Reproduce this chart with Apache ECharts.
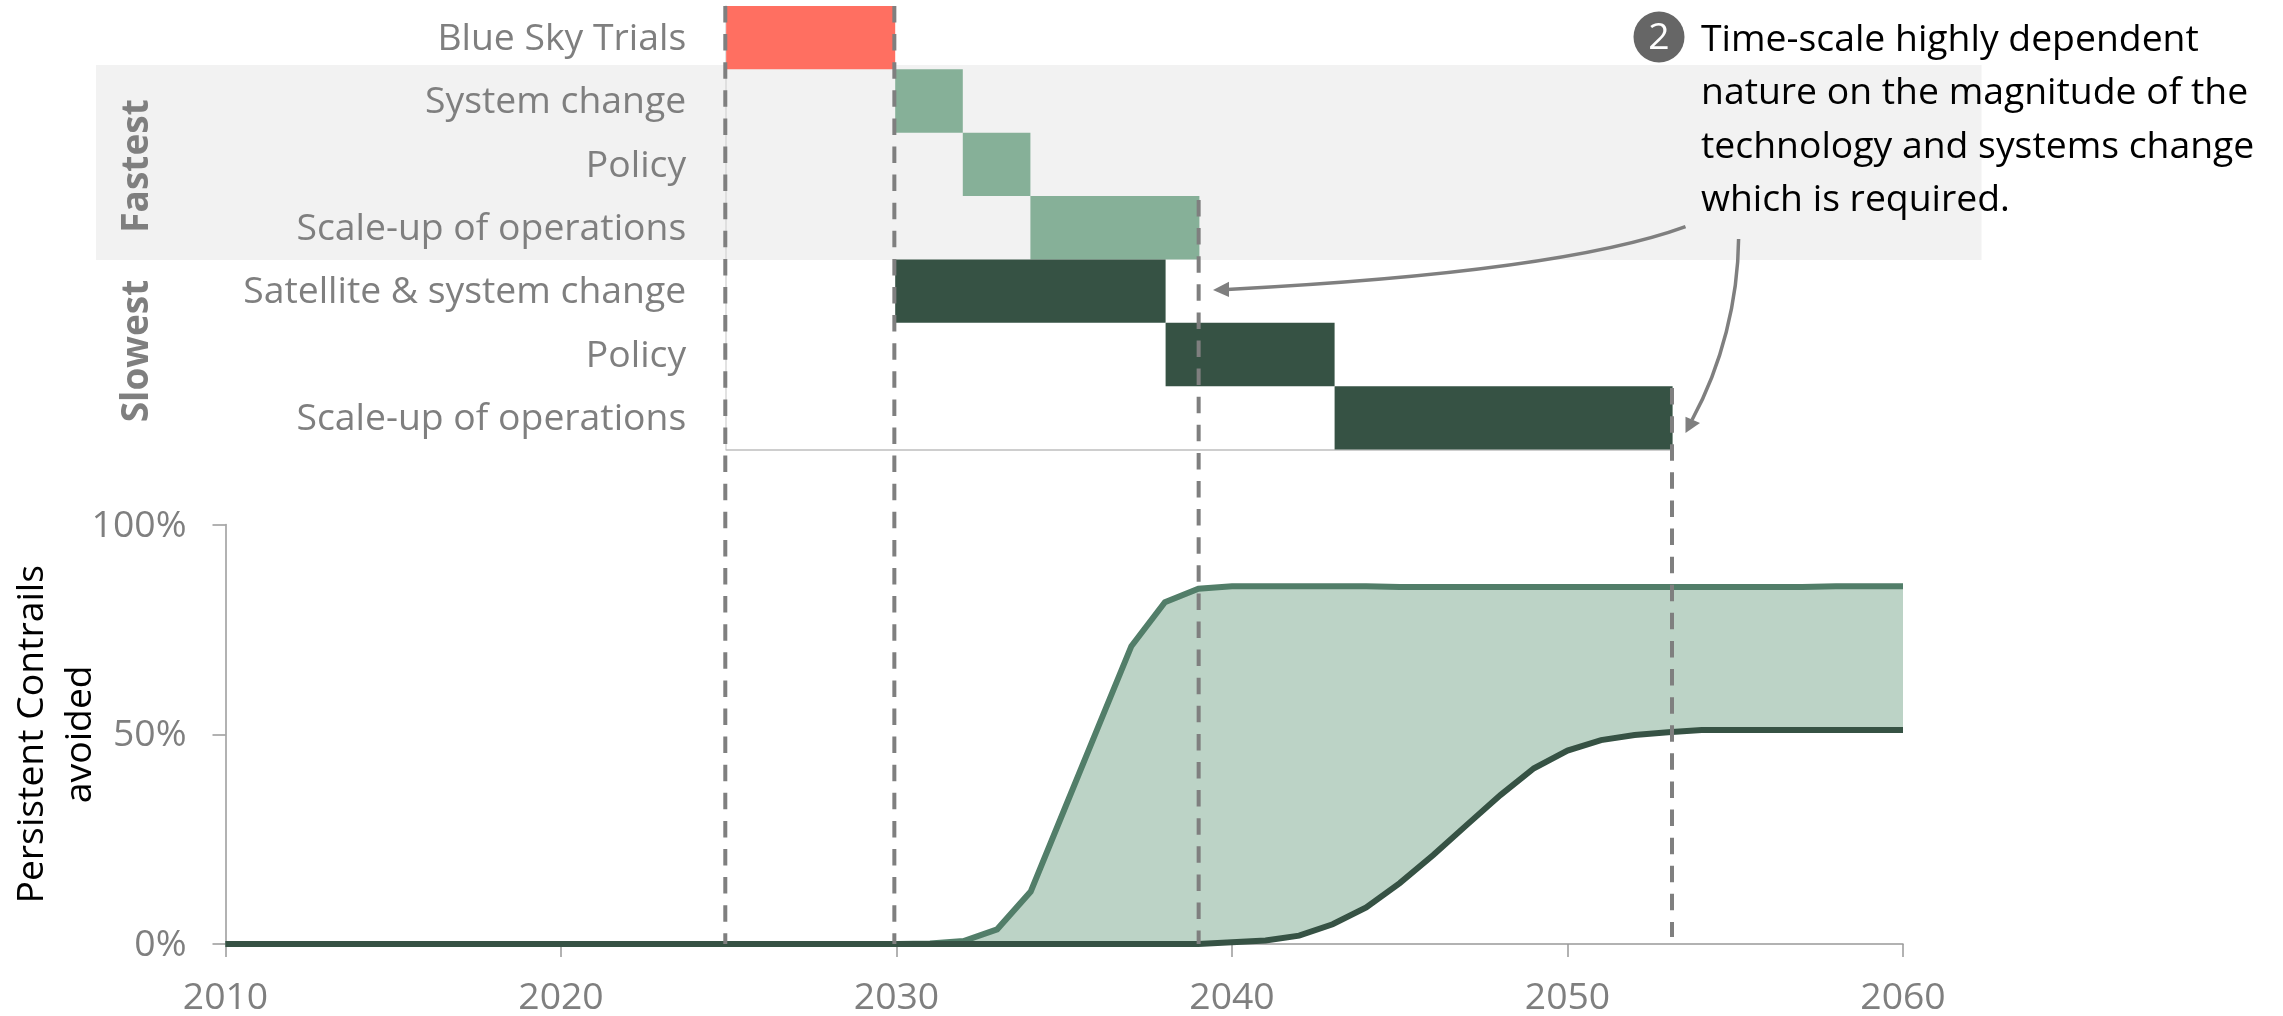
<!DOCTYPE html>
<html>
<head>
<meta charset="utf-8">
<style>html,body{margin:0;padding:0;background:#fff}#c{width:2283px;height:1016px}</style>
<script src="https://cdn.jsdelivr.net/npm/echarts@6/dist/echarts.min.js"></script>
</head>
<body>
<div id="c"></div>
<script>
// Programme phases
const phaseLabels = ['Blue Sky Trials','System change','Policy','Scale-up of operations','Satellite & system change','Policy','Scale-up of operations'];
const phaseStart = [2025,2030,2032,2034,2030,2038,2043];
const phaseEnd   = [2030,2032,2034,2039,2038,2043,2053];
const phaseColor = ['#ff6f61','#86b098','#86b098','#86b098','#365244','#365244','#365244'];

// Share of persistent contrails avoided, by year
const years = [2010,2011,2012,2013,2014,2015,2016,2017,2018,2019,
  2020,2021,2022,2023,2024,2025,2026,2027,2028,2029,
  2030,2031,2032,2033,2034,2035,2036,2037,2038,2039,
  2040,2041,2042,2043,2044,2045,2046,2047,2048,2049,
  2050,2051,2052,2053,2054,2055,2056,2057,2058,2059,2060];
const fastest = [0,0,0,0,0,0,0,0,0,0, 0,0,0,0,0,0,0,0,0,0, 0,0.1,0.7,3.5,12.5,32,51.5,71,81.5,84.7,
  85.3,85.3,85.3,85.3,85.3,85.1,85.1,85.1,85.1,85.1, 85.1,85.1,85.1,85.1,85.1,85.1,85.1,85.1,85.3,85.3,85.3];
const slowest = [0,0,0,0,0,0,0,0,0,0, 0,0,0,0,0,0,0,0,0,0, 0,0,0,0,0,0,0,0,0,0,
  0.4,0.85,2,4.7,8.7,14.5,21.2,28.4,35.5,41.9, 46.1,48.6,49.8,50.5,51,51,51,51,51,51,51];

// Dashed guides: year, and where each starts and stops (0 = top, 1 = bottom of the guide panel)
const guideYears = [2025,2030,2039,2053];
const guideFrom  = [0,0,0.2068,0.4073];
const guideTo    = [1,1,1,0.9925];

const noteLines = ['Time-scale highly dependent','nature on the magnitude of the','technology and systems change','which is required.'];

const FONT = '"Open Sans"';
const GREY = '#7f7f7f';
const SIZE = 37.33;
const bandHeight = fastest.map((v, i) => +(v - slowest[i]).toFixed(2));

const hiddenAxis = {show: false};
const gridBase = {outerBoundsMode: 'none'};
// Rich label style that sits the axis text slightly below its row centre
const loweredText = {t: {color: GREY, fontSize: SIZE, fontFamily: FONT, padding: [3, 0, 0, 0]}};

const option = {
  animation: false,
  backgroundColor: '#fff',
  textStyle: {fontFamily: FONT},
  grid: [
    {...gridBase, left: 726.2, width: 946.4, top: 6, height: 443.5},
    {...gridBase, left: 225.5, width: 1677.5, top: 524.5, height: 419.5},
    {...gridBase, left: 725.3, width: 946.7, top: 6, height: 938},
    {...gridBase, left: 96, width: 1885.5, top: 65, height: 195, show: true, backgroundColor: '#f2f2f2', borderWidth: 0, z: 0}
  ],
  xAxis: [
    {gridIndex: 0, type: 'value', min: 2025, max: 2053, splitLine: {show: false}, axisTick: {show: false}, axisLabel: {show: false},
     axisLine: {show: true, lineStyle: {color: '#bfbfbf', width: 1.5}}},
    {gridIndex: 1, type: 'category', data: years, boundaryGap: false, splitLine: {show: false},
     axisLine: {show: true, onZero: false, lineStyle: {color: '#999', width: 1.5}},
     axisTick: {show: true, length: 13, interval: 9, lineStyle: {color: '#999', width: 1.5}},
     axisLabel: {color: GREY, fontSize: SIZE, fontFamily: FONT, margin: 36, interval: 9}},
    {gridIndex: 2, type: 'value', min: 2025, max: 2053, ...hiddenAxis},
    {gridIndex: 3, type: 'value', min: 0, max: 1, ...hiddenAxis}
  ],
  yAxis: [
    {gridIndex: 0, type: 'category', inverse: true, data: phaseLabels,
     axisLine: {show: true, lineStyle: {color: '#d9d9d9', width: 1.5}}, axisTick: {show: false},
     axisLabel: {margin: 40, interval: 0, formatter: v => '{t|' + v + '}', rich: loweredText}},
    {gridIndex: 1, type: 'value', min: 0, max: 100, interval: 50, splitLine: {show: false},
     axisLine: {show: true, lineStyle: {color: '#999', width: 1.5}},
     axisTick: {show: true, length: 13, lineStyle: {color: '#999', width: 1.5}},
     axisLabel: {margin: 39, formatter: v => '{t|' + v + '%}', rich: loweredText},
     name: 'Persistent Contrails\navoided', nameLocation: 'middle', nameGap: 121, nameRotate: 90, nameMoveOverlap: false,
     nameTextStyle: {color: '#000', fontSize: SIZE, fontFamily: FONT, lineHeight: 48}},
    {gridIndex: 2, type: 'value', min: 0, max: 1, inverse: true, ...hiddenAxis},
    {gridIndex: 3, type: 'value', min: 0, max: 1, ...hiddenAxis}
  ],
  series: [
    {name: 'Start', type: 'bar', xAxisIndex: 0, yAxisIndex: 0, stack: 'phase', barWidth: '100%', silent: true,
     itemStyle: {color: 'transparent'}, data: phaseStart},
    {name: 'Duration', type: 'bar', xAxisIndex: 0, yAxisIndex: 0, stack: 'phase', barWidth: '100%', z: 3,
     data: phaseEnd.map((e, i) => ({value: e - phaseStart[i], itemStyle: {color: phaseColor[i]}}))},

    {name: 'Band base', type: 'line', xAxisIndex: 1, yAxisIndex: 1, stack: 'band', symbol: 'none', lineStyle: {width: 0}, data: slowest},
    {name: 'Band', type: 'line', xAxisIndex: 1, yAxisIndex: 1, stack: 'band', symbol: 'none', lineStyle: {width: 0},
     areaStyle: {color: '#bcd3c6', opacity: 1}, data: bandHeight},
    {name: 'Fastest', type: 'line', xAxisIndex: 1, yAxisIndex: 1, symbol: 'none', z: 4, lineStyle: {color: '#527e69', width: 6, join: 'miter'}, data: fastest},
    {name: 'Slowest', type: 'line', xAxisIndex: 1, yAxisIndex: 1, symbol: 'none', z: 5, lineStyle: {color: '#365244', width: 6, join: 'miter'}, data: slowest},

    ...guideYears.map((yr, i) => ({
      name: 'Guide ' + yr, type: 'line', xAxisIndex: 2, yAxisIndex: 2, symbol: 'none', z: 8, silent: true,
      lineStyle: {color: GREY, width: 4, type: [16.5, 11.6]},
      data: [[yr, guideFrom[i]], [yr, guideTo[i]]]
    }))
  ],
  graphic: [
    {type: 'text', z: 20, x: 137, y: 166, rotation: Math.PI / 2, style: {text: 'Fastest', fill: GREY, font: 'bold 37px ' + FONT, align: 'center', verticalAlign: 'middle'}},
    {type: 'text', z: 20, x: 137, y: 351, rotation: Math.PI / 2, style: {text: 'Slowest', fill: GREY, font: 'bold 37px ' + FONT, align: 'center', verticalAlign: 'middle'}},

    {type: 'circle', z: 20, shape: {cx: 1659, cy: 37, r: 25.5}, style: {fill: '#666'}},
    {type: 'text', z: 21, x: 1659, y: 38, style: {text: '2', fill: '#fff', font: SIZE + 'px ' + FONT, align: 'center', verticalAlign: 'middle'}},
    ...noteLines.map((t, i) => ({
      type: 'text', z: 20, x: 1701, y: 40 + i * 53.5,
      style: {text: t, fill: '#000', font: SIZE + 'px ' + FONT, align: 'left', verticalAlign: 'middle'}
    })),

    // Callout arrows
    {type: 'bezierCurve', z: 20, shape: {x1: 1685.5, y1: 226.7, cpx1: 1600, cpy1: 258, cpx2: 1450, cpy2: 278, x2: 1227, y2: 289.5},
     style: {stroke: GREY, lineWidth: 3.5, fill: 'none'}},
    {type: 'polygon', z: 20, shape: {points: [[1213, 290], [1229, 281.7], [1229, 297]]}, style: {fill: GREY}},
    {type: 'bezierCurve', z: 20, shape: {x1: 1738.6, y1: 239, cpx1: 1738, cpy1: 300, cpx2: 1722, cpy2: 365, x2: 1692, y2: 420},
     style: {stroke: GREY, lineWidth: 3.5, fill: 'none'}},
    {type: 'polygon', z: 20, shape: {points: [[1685.5, 433], [1685.5, 416.7], [1700, 423]]}, style: {fill: GREY}}
  ]
};

echarts.init(document.getElementById('c'), null, {renderer: 'canvas'}).setOption(option);
</script>
</body>
</html>
